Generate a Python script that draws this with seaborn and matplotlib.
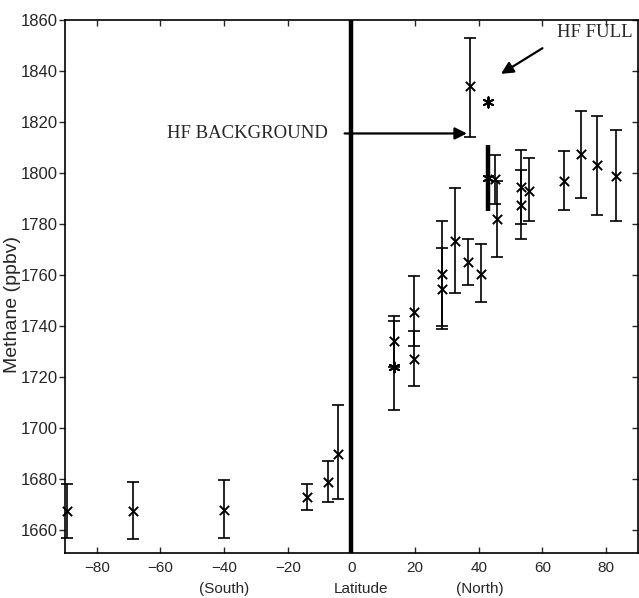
import numpy as np
import matplotlib
matplotlib.use("Agg")
import matplotlib.pyplot as plt
import seaborn as sns

# latitude / methane readings (x markers) with error bar limits
lat_x = [-89.5, -68.7, -40.0, -13.8, -7.3, -4.2, 13.4, 19.6, 19.6, 28.6, 28.6,
         32.5, 36.7, 37.4, 40.6, 45.0, 45.8, 53.2, 53.2, 55.8, 66.9, 72.1, 77.3, 83.3]
ch4_x = [1667.5, 1667.5, 1668, 1673, 1679, 1690, 1734, 1745.5, 1727, 1760.5, 1754.5,
         1773.5, 1765, 1834, 1760.5, 1797.5, 1782, 1794.5, 1787.5, 1793, 1797, 1807.5, 1803, 1799]
lo_x = [1657, 1656.5, 1657, 1668, 1671, 1672, 1724, 1732, 1716.5, 1740, 1739,
        1753, 1756, 1814, 1749.5, 1788, 1767, 1780, 1774, 1781, 1785.5, 1790, 1783.5, 1781]
hi_x = [1678, 1679, 1679.5, 1678, 1687, 1709, 1744, 1759.5, 1738, 1781, 1770.5,
        1794, 1774, 1853, 1772, 1807, 1797, 1809, 1801, 1806, 1808.5, 1824.5, 1822.5, 1817]

# asterisk readings
lat_a = [13.4, 43.0]
ch4_a = [1724, 1798]
lo_a = [1707, 1785]
hi_a = [1742, 1811]

# HF full point
lat_full = [43.1]
ch4_full = [1828]

yticks = list(range(1660, 1861, 20))
xticks = list(range(-80, 81, 20))

sns.set_style("ticks")
plt.rcParams['font.family'] = ['Liberation Sans', 'DejaVu Sans']

fig = plt.figure(figsize=(6.39, 5.98), dpi=100)
ax = fig.add_axes([0.1017, 0.0753, 0.8963, 0.8913])


def noclip(cont):
    for art in cont.get_children():
        art.set_clip_on(False)


ch4_x = np.array(ch4_x)
eb = ax.errorbar(lat_x, ch4_x, yerr=[ch4_x - np.array(lo_x), np.array(hi_x) - ch4_x],
                 fmt='none', ecolor='black', elinewidth=1.2, capsize=4.5, capthick=1.2)
noclip(eb)
ax.errorbar(lat_a[:1], ch4_a[:1], yerr=[[ch4_a[0] - lo_a[0]], [hi_a[0] - ch4_a[0]]],
            fmt='none', ecolor='black', elinewidth=1.2, capsize=4.5, capthick=1.2)
ax.errorbar(lat_a[1:], ch4_a[1:], yerr=[[ch4_a[1] - lo_a[1]], [hi_a[1] - ch4_a[1]]],
            fmt='none', ecolor='black', elinewidth=3.2, capsize=0)

sns.scatterplot(x=lat_x, y=ch4_x, marker='x', color='black', s=45, linewidth=1.4,
                ax=ax, zorder=3, clip_on=False)
sns.scatterplot(x=lat_a + lat_full, y=ch4_a + ch4_full, marker=(6, 2, 0), color='black',
                s=55, linewidth=1.4, ax=ax, zorder=3)

ax.axvline(0, color='black', lw=3.2, zorder=2)

ax.set_xlim(-90, 90)
ax.set_ylim(1651, 1860)
ax.set_xticks(xticks)
ax.set_yticks(yticks)
ax.set_xticklabels([str(t).replace('-', '\u2212') for t in xticks])
ax.tick_params(axis='x', direction='in', top=True, labelsize=11, length=4, width=1, pad=6)
ax.tick_params(axis='y', direction='out', right=True, labelsize=12, length=4, width=1, pad=1)
for tk in ax.yaxis.get_major_ticks():
    tk.tick2line.set_marker(matplotlib.lines.TICKLEFT)
for s in ax.spines.values():
    s.set_linewidth(1.2)
    s.set_color('black')

ax.set_ylabel('Methane (ppbv)', fontsize=14)
ax.yaxis.set_label_coords(-0.077, 0.467)
ax.set_xlabel('')

trans = matplotlib.transforms.blended_transform_factory(ax.transData, ax.transAxes)
ax.text(-40, -0.068, '(South)', transform=trans, ha='center', va='center', fontsize=11)
ax.text(3, -0.068, 'Latitude', transform=trans, ha='center', va='center', fontsize=11)
ax.text(40.5, -0.068, '(North)', transform=trans, ha='center', va='center', fontsize=11)

serif = ['Liberation Serif', 'DejaVu Serif']
ax.text(-7.5, 1815.5, 'HF BACKGROUND', ha='right', va='center', fontsize=13.5, family=serif)
ax.annotate('', xy=(37.2, 1815.5), xytext=(-3.0, 1815.5),
            arrowprops=dict(arrowstyle='-|>', color='black', lw=1.6, mutation_scale=18))
ax.text(76.5, 1855, 'HF FULL', ha='center', va='center', fontsize=13.5, family=serif)
ax.annotate('', xy=(46.3, 1838.3), xytext=(60.8, 1849.5),
            arrowprops=dict(arrowstyle='-|>', color='black', lw=1.6, mutation_scale=18))

fig.savefig('out.png', dpi=100)
